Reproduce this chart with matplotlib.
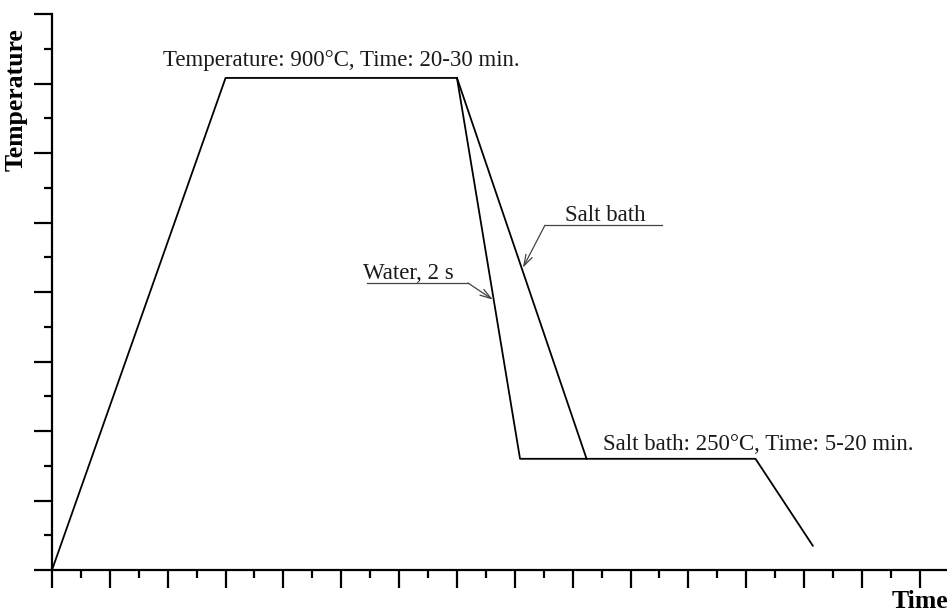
import matplotlib.pyplot as plt

# process path (time, temperature) in arbitrary units
heat_t = [0, 3, 7]
heat_T = [0, 7.08, 7.08]
water_t = [7, 8.09, 12.16, 13.15]
water_T = [7.08, 1.6, 1.6, 0.35]
salt_t = [7, 9.24]
salt_T = [7.08, 1.6]

plt.rcParams['font.family'] = ['Liberation Serif', 'DejaVu Serif']

fig = plt.figure(figsize=(9.47, 6.13), dpi=100)
ax = fig.add_axes([52 / 947, 43 / 613, 895 / 947, 556 / 613])

ax.plot(heat_t, heat_T, color='black', lw=1.3)
ax.plot(water_t, water_T, color='black', lw=1.3)
ax.plot(salt_t, salt_T, color='black', lw=1.3)

ax.set_xlim(0, 15.47)
ax.set_ylim(0, 8)
ax.set_xticks(range(0, 16))
ax.set_xticks([i + 0.5 for i in range(0, 15)], minor=True)
ax.set_yticks(range(0, 9))
ax.set_yticks([i + 0.5 for i in range(0, 8)], minor=True)
ax.tick_params(which='major', length=13, width=1.6, direction='out',
               labelbottom=False, labelleft=False)
ax.tick_params(which='minor', length=6, width=1.6, direction='out')
for s in ['top', 'right']:
    ax.spines[s].set_visible(False)
for s in ['left', 'bottom']:
    ax.spines[s].set_linewidth(1.6)

fs = 16.5
tc = '#1a1a1a'
ax.text(1.92, 7.25, 'Temperature: 900°C, Time: 20-30 min.', fontsize=fs,
        va='baseline', color=tc)
ax.text(9.52, 1.73, 'Salt bath: 250°C, Time: 5-20 min.', fontsize=fs,
        va='baseline', color=tc)

# leader labels
arrow = dict(arrowstyle='->,head_length=0.8,head_width=0.25',
             color='#444444', lw=0.9, shrinkA=0, shrinkB=0)
ax.text(8.86, 5.02, 'Salt bath', fontsize=fs, va='baseline', color=tc)
ax.plot([8.52, 10.54], [4.96, 4.96], color='#444444', lw=0.9)
ax.annotate('', xy=(8.14, 4.35), xytext=(8.52, 4.96), arrowprops=arrow)
ax.text(5.37, 4.19, 'Water, 2 s', fontsize=fs, va='baseline', color=tc)
ax.plot([5.44, 7.19], [4.13, 4.13], color='#444444', lw=0.9)
ax.annotate('', xy=(7.62, 3.89), xytext=(7.19, 4.13), arrowprops=arrow)

fig.text(16.5 / 947, 1 - 100 / 613, 'Temperature', rotation=90, fontsize=18.5,
         fontweight='bold', ha='center', va='center')
fig.text(892 / 947, 1 - 608 / 613, 'Time', fontsize=18.5, fontweight='bold',
         ha='left', va='baseline')

fig.savefig('out.png', dpi=100)
